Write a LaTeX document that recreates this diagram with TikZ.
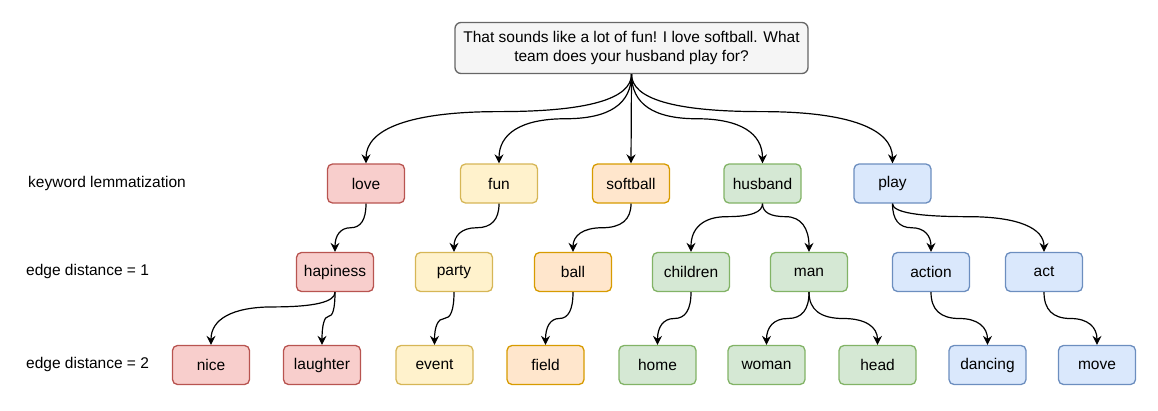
\documentclass[tikz,border=0pt]{standalone}
\usepackage{fontspec}
\setmainfont{Liberation Sans}
\usetikzlibrary{arrows.meta,calc}
\definecolor{redF}{HTML}{F8CECC}
\definecolor{redD}{HTML}{B85450}
\definecolor{yelF}{HTML}{FFF2CC}
\definecolor{yelD}{HTML}{D6B656}
\definecolor{orgF}{HTML}{FFE6CC}
\definecolor{orgD}{HTML}{D79B00}
\definecolor{grnF}{HTML}{D5E8D4}
\definecolor{grnD}{HTML}{82B366}
\definecolor{bluF}{HTML}{DAE8FC}
\definecolor{bluD}{HTML}{6C8EBF}
\definecolor{gryF}{HTML}{F5F5F5}
\definecolor{gryD}{HTML}{666666}

\begin{document}
\begin{tikzpicture}[
  x=1pt, y=-1pt,
  font=\fontsize{15.5}{19}\selectfont,
  word/.style={rectangle, rounded corners=5pt, line width=1.3pt,
    minimum width=77pt, minimum height=39pt, inner sep=0pt},
  wred/.style={word, draw=redD, fill=redF},
  wyel/.style={word, draw=yelD, fill=yelF},
  worg/.style={word, draw=orgD, fill=orgF},
  wgrn/.style={word, draw=grnD, fill=grnF},
  wblu/.style={word, draw=bluD, fill=bluF},
  lbl/.style={anchor=west, inner sep=0pt},
  arw/.style={-{Stealth[length=9pt,width=9pt,inset=3pt]}, line width=1.2pt},
  curve/.style={to path={
    let \p1=(\tikztostart), \p2=(\tikztotarget),
        \p3=($(\p1)!#1!(\p2)$), \p4=($(\p1)!0.5!(\p2)$) in
    .. controls ($(\p1)!2/3!(\x1,\y3)$) and ($(\x4,\y3)!2/3!(\x1,\y3)$) .. (\x4,\y3)
    .. controls ($(\x4,\y3)!2/3!(\x2,\y3)$) and ($(\p2)!2/3!(\x2,\y3)$) .. (\p2)}},
  curve/.default=0.5,
]
  \useasboundingbox (0,0) rectangle (1158,410);

  % sentence
  \node[rectangle, rounded corners=6pt, line width=1.3pt, draw=gryD, fill=gryF,
    minimum width=353pt, minimum height=51pt, align=center] (sent) at (631.5,48)
    {That sounds like a lot of fun! I love softball. What\\team does your husband play for?};

  % row labels
  \node[lbl] (l0) at (28,183) {keyword lemmatization};
  \node[lbl] (l1) at (26,271) {edge distance = 1};
  \node[lbl] (l2) at (26,364) {edge distance = 2};

  % keywords
  \node[wred] (love)     at (366,183.5)   {love};
  \node[wyel] (fun)      at (499,183.5)   {fun};
  \node[worg] (softball) at (631,183.5)   {softball};
  \node[wgrn] (husband)  at (762.5,183.5) {husband};
  \node[wblu] (play)     at (892.5,183.5) {play};

  % distance 1
  \node[wred] (hapiness) at (335,272)  {hapiness};
  \node[wyel] (party)    at (454,272)  {party};
  \node[worg] (ball)     at (573,272)  {ball};
  \node[wgrn] (children) at (691,272)  {children};
  \node[wgrn] (man)      at (809,272)  {man};
  \node[wblu] (action)   at (931,272)  {action};
  \node[wblu] (act)      at (1044,272) {act};

  % distance 2
  \node[wred] (nice)     at (211,365)    {nice};
  \node[wred] (laughter) at (322,365)    {laughter};
  \node[wyel] (event)    at (434.5,365)  {event};
  \node[worg] (field)    at (545.5,365)  {field};
  \node[wgrn] (home)     at (657.5,365)  {home};
  \node[wgrn] (woman)    at (766.5,365)  {woman};
  \node[wgrn] (head)     at (877.5,365)  {head};
  \node[wblu] (dancing)  at (987.5,365)  {dancing};
  \node[wblu] (move)     at (1097,365)   {move};

  \draw[arw] (sent.south) to[curve=0.42] (love.north);
  \draw[arw] (sent.south) to[curve] (fun.north);
  \draw[arw] (sent.south) -- (softball.north);
  \draw[arw] (sent.south) to[curve] (husband.north);
  \draw[arw] (sent.south) to[curve=0.42] (play.north);

  \draw[arw] (love.south) to[curve] (hapiness.north);
  \draw[arw] (fun.south) to[curve] (party.north);
  \draw[arw] (softball.south) to[curve] (ball.north);
  \draw[arw] (husband.south) to[curve=0.27] (children.north);
  \draw[arw] (husband.south) to[curve=0.27] (man.north);
  \draw[arw] (play.south) to[curve] (action.north);
  \draw[arw] (play.south) to[curve=0.27] (act.north);

  \draw[arw] (hapiness.south) to[curve=0.28] (nice.north);
  \draw[arw] (hapiness.south) to[curve=0.46] (laughter.north);
  \draw[arw] (party.south) to[curve] (event.north);
  \draw[arw] (ball.south) to[curve] (field.north);
  \draw[arw] (children.south) to[curve] (home.north);
  \draw[arw] (man.south) to[curve] (woman.north);
  \draw[arw] (man.south) to[curve] (head.north);
  \draw[arw] (action.south) to[curve] (dancing.north);
  \draw[arw] (act.south) to[curve] (move.north);
\end{tikzpicture}
\end{document}
